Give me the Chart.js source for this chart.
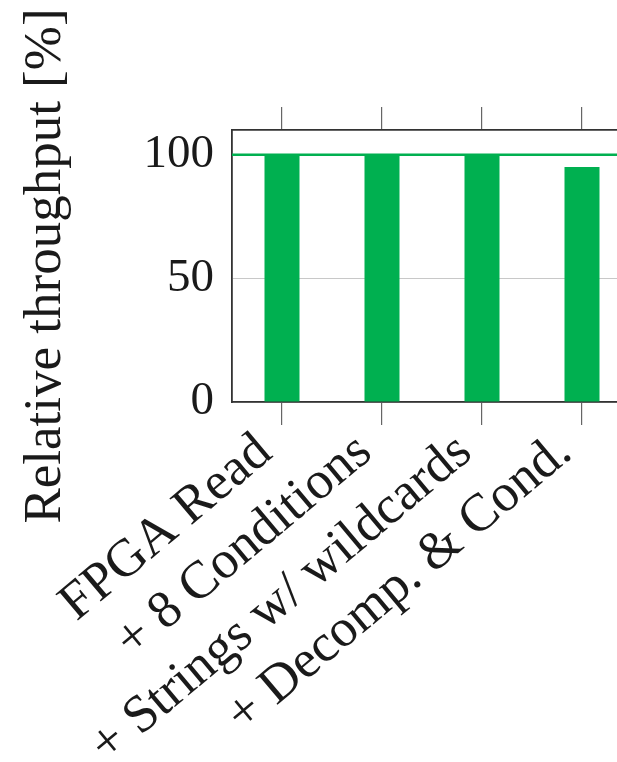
<!DOCTYPE html>
<html>
<head>
<meta charset="utf-8">
<script src="https://cdn.jsdelivr.net/npm/chart.js@4.4.0/dist/chart.umd.min.js"></script>
<style>
  html, body { margin: 0; padding: 0; background: #fff; overflow: hidden; }
  #grafica { display: block; }
</style>
</head>
<body>
<canvas id="grafica" width="640" height="762"></canvas>
<script>
// data
const categorias = ['FPGA Read', '+ 8 Conditions', '+ Strings w/ wildcards', '+ Decomp. & Cond.'];
const throughput = [100, 100, 100, 95];
const yTicks = [0, 50, 100];
const lineaReferencia = 100;

const verde = '#00b050';
const tinta = '#1a1a1a';
const fuente = "'Liberation Serif', 'Times New Roman', serif";

// horizontal reference line across the whole plot, placed with the y scale
const lineaPlugin = {
    id: 'lineaReferencia',
    afterDatasetsDraw(chart) {
        const y = chart.scales.y.getPixelForValue(lineaReferencia);
        const area = chart.chartArea;
        const ctx = chart.ctx;
        ctx.save();
        ctx.strokeStyle = verde;
        ctx.lineWidth = 2.5;
        ctx.beginPath();
        ctx.moveTo(area.left, y);
        ctx.lineTo(area.right, y);
        ctx.stroke();
        ctx.restore();
    }
};

const ctx = document.getElementById('grafica');

new Chart(ctx, {
    type: 'bar',
    data: {
        labels: categorias,
        datasets: [{
            data: throughput,
            backgroundColor: verde,
            borderWidth: 0,
            categoryPercentage: 1,
            barPercentage: 0.35
        }]
    },
    options: {
        responsive: false,
        animation: false,
        layout: { padding: { left: 10, top: 107, right: 8, bottom: 0 } },
        plugins: {
            legend: { display: false },
            tooltip: { enabled: false }
        },
        scales: {
            x: {
                position: 'bottom',
                offset: true,
                grid: { offset: false, drawOnChartArea: false, tickLength: 23, color: '#666', lineWidth: 1.2 },
                border: { color: '#333', width: 1.8 },
                ticks: {
                    autoSkip: false,
                    minRotation: 40,
                    maxRotation: 40,
                    padding: -4,
                    labelOffset: -17,
                    color: tinta,
                    font: { family: fuente, size: 53 }
                },
                afterFit(scale) { scale.height = 762 - 402; }
            },
            x2: {
                type: 'category',
                labels: categorias,
                position: 'top',
                offset: true,
                grid: { offset: false, drawOnChartArea: false, tickLength: 23, color: '#666', lineWidth: 1.2 },
                border: { color: '#333', width: 1.8 },
                ticks: { display: false },
                afterFit(scale) { scale.height = 23; }
            },
            y: {
                min: 0,
                max: 110,
                grid: { drawTicks: false, color: '#c8c8c8', lineWidth: 1 },
                border: { color: '#333', width: 1.8 },
                afterBuildTicks(scale) { scale.ticks = yTicks.map(v => ({ value: v })); },
                ticks: {
                    padding: 18,
                    color: tinta,
                    font: { family: fuente, size: 47 }
                },
                title: {
                    display: true,
                    text: 'Relative throughput [%]',
                    color: tinta,
                    font: { family: fuente, size: 53, weight: 'normal' },
                    padding: { top: 4, bottom: 4 }
                },
                afterFit(scale) { scale.width = 232 - 10; }
            }
        }
    },
    plugins: [lineaPlugin]
});
</script>
</body>
</html>
